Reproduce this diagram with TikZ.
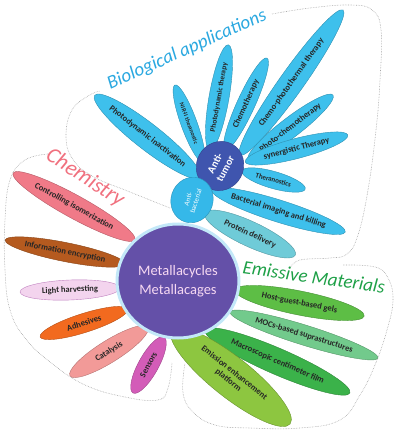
\documentclass[tikz,border=0pt]{standalone}
\usepackage{fontspec}
\setmainfont{Carlito}
\usetikzlibrary{shapes.geometric}

\definecolor{bioblue}{HTML}{3EC0EC}
\definecolor{biotitle}{HTML}{2AA8E0}
\definecolor{tumorblue}{HTML}{3F55AE}
\definecolor{bactblue}{HTML}{35B8E9}
\definecolor{proteal}{HTML}{6FCBD8}
\definecolor{hubpurple}{HTML}{6450A8}
\definecolor{hubglow}{HTML}{C3E8F8}
\definecolor{hubtext}{HTML}{F6D8F2}
\definecolor{isored}{HTML}{F07A88}
\definecolor{encbrown}{HTML}{B55A1F}
\definecolor{lightpink}{HTML}{F3D4EE}
\definecolor{adhorange}{HTML}{F26A1F}
\definecolor{catpink}{HTML}{F29A98}
\definecolor{senmag}{HTML}{D35CB8}
\definecolor{chemtitle}{HTML}{F0707E}
\definecolor{gelgreen}{HTML}{5DBE45}
\definecolor{mocmint}{HTML}{72CA8C}
\definecolor{filmgreen}{HTML}{3BB24A}
\definecolor{emilime}{HTML}{8DC640}
\definecolor{emititle}{HTML}{1EA047}

\newcommand{\pl}[1]{\makebox[0pt]{#1}}

\begin{document}
\begin{tikzpicture}[x=1pt, y=-1pt,
    border/.style={gray!70, densely dotted, line width=0.6pt},
    petal/.style={ellipse, draw=#1!75!black, fill=#1, line width=0.4pt, inner sep=0pt, outer sep=0pt,
        text=black!85, font=\bfseries\fontsize{8.5}{9.5}\selectfont},
    hub/.style={ellipse, inner sep=0pt, align=center},
    title/.style={font=\itshape\fontsize{19}{20}\selectfont}]
    \useasboundingbox (0,0) rectangle (400,435);

    \draw[border] plot[smooth, tension=0.7] coordinates {(170,208) (130,192) (92,176) (72,158) (66,135) (72,110) (88,96) (100,91)};
    \draw[border] plot[smooth, tension=0.7] coordinates {(272,14) (310,8) (350,5) (372,10) (381,30) (380,80) (376,130) (368,190) (358,235) (347,254) (330,258) (300,260) (290,268)};
    \draw[border] plot[smooth, tension=0.7] coordinates {(48,154) (25,160) (10,180) (5,220) (5,270) (10,310) (25,338) (50,362) (85,385) (125,397) (158,400) (168,388) (172,363)};
    \draw[border] plot[smooth, tension=0.7] coordinates {(343,265) (375,267) (388,278) (393,300) (387,330) (375,365) (360,395) (340,420) (300,428) (250,428) (215,425) (193,412) (183,393) (185,363)};

    \node[petal=bioblue, minimum width=134, minimum height=26, rotate=-38] (pdi) at (147.5,136.5) {\pl{Photodynamic inactivation}};
    \node[petal=bioblue, minimum width=82, minimum height=16, rotate=-70, font=\bfseries\fontsize{6}{7}\selectfont] (nir) at (189,123.5) {\pl{NIR-II theranostic}};
    \node[petal=bioblue, minimum width=107, minimum height=20, rotate=80, font=\bfseries\fontsize{7.5}{8}\selectfont] (pdt) at (219,97.5) {\pl{Photodynamic therapy}};
    \node[petal=bioblue, minimum width=101, minimum height=18, rotate=65.5] (chemo) at (246,104) {\pl{Chemotherapy}};
    \node[petal=bioblue, minimum width=178, minimum height=24, rotate=54.6] (cpt) at (291.5,82.5) {\pl{Chemo-photothermal therapy}};
    \node[petal=bioblue, minimum width=107, minimum height=20, rotate=37.4] (pct) at (290.5,127.5) {\pl{Photo-chemotherapy}};
    \node[petal=bioblue, minimum width=106, minimum height=20, rotate=14.7] (syn) at (296.5,148.5) {\pl{synergistic Therapy}};
    \node[petal=bioblue, minimum width=66, minimum height=17, rotate=-16, font=\bfseries\fontsize{7}{8}\selectfont] (thera) at (273.5,180) {\pl{Theranostics}};
    \node[petal=bioblue, minimum width=140, minimum height=22, rotate=-17.5] (bact) at (278.5,211) {\pl{Bacterial imaging and killing}};
    \node[petal=proteal, minimum width=100, minimum height=25, rotate=-25] (prot) at (250,234) {\pl{Protein delivery}};

    \node[hub, draw=tumorblue!80!black, fill=tumorblue, minimum width=50, minimum height=47, rotate=62,
        text=white, font=\bfseries\fontsize{10.5}{11.5}\selectfont] (tumor) at (220,166) {Anti-\\tumor};
    \node[hub, draw=bactblue!80!black, fill=bactblue, minimum width=46, minimum height=42, rotate=72,
        text=white, font=\fontsize{7}{8}\selectfont] (antibact) at (192,200) {Anti-\\bacterial};

    \node[petal=isored, minimum width=139, minimum height=23, rotate=-28.8] (iso) at (74,206.5) {\pl{Controlling isomerization}};
    \node[petal=encbrown, minimum width=122, minimum height=19, rotate=-11.3] (enc) at (65,252) {\pl{Information encryption}};
    \node[petal=lightpink, draw=violet!50, minimum width=100, minimum height=20, rotate=2.3] (light) at (70,290) {\pl{Light harvesting}};
    \node[petal=adhorange, minimum width=92, minimum height=19, rotate=17.6] (adh) at (84,323) {\pl{Adhesives}};
    \node[petal=catpink, minimum width=92, minimum height=22, rotate=32] (cat) at (109,351.5) {\pl{Catalysis}};
    \node[petal=senmag, minimum width=64, minimum height=20, rotate=61] (sens) at (148.5,365) {\pl{Sensors}};

    \node[petal=gelgreen, minimum width=132, minimum height=24, rotate=-11.4] (gels) at (299.5,303) {\pl{Host-guest-based gels}};
    \node[petal=mocmint, minimum width=155, minimum height=20, rotate=-17.3] (mocs) at (304,335) {\pl{MOCs-based suprastructures}};
    \node[petal=filmgreen, minimum width=158, minimum height=26, rotate=-23.5] (film) at (277.5,361.5) {\pl{Macroscopic centimeter film}};
    \node[petal=emilime, minimum width=151, minimum height=40, rotate=-38.5] (emis) at (231,377) {\pl{\begin{tabular}{@{}c@{}}Emission enhancement\\platform\end{tabular}}};

    \node[hub, draw=hubglow, line width=3pt, fill=hubpurple, minimum width=122, minimum height=114,
        text=hubtext, font=\fontsize{14.5}{19}\selectfont] (hub) at (178,281) {Metallacycles\\Metallacages};

    \node[title, text=biotitle, rotate=24] (bio) at (187,50) {Biological applications};
    \node[title, text=chemtitle, rotate=-33, font=\itshape\fontsize{22}{23}\selectfont] (chem) at (85,178) {Chemistry};
    \node[title, text=emititle, rotate=-8] (emi) at (314,277) {Emissive Materials};
\end{tikzpicture}
\end{document}
